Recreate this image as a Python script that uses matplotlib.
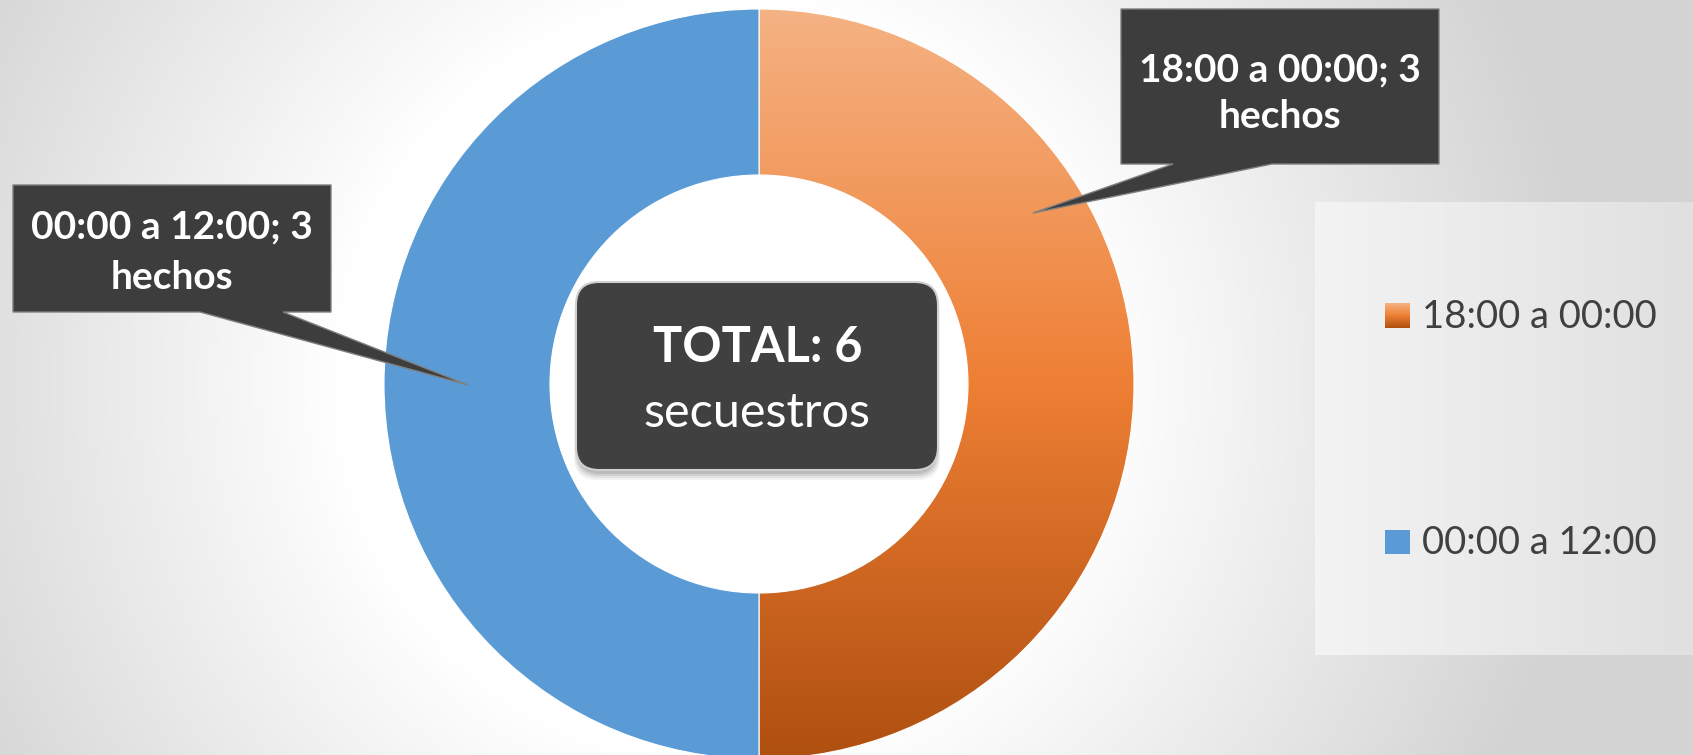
import numpy as np
import matplotlib
matplotlib.use('Agg')
import matplotlib.pyplot as plt
from matplotlib.patches import Polygon, FancyBboxPatch, Rectangle
from matplotlib.colors import LinearSegmentedColormap

# ---------------- data ----------------
categories = ['18:00 a 00:00', '00:00 a 12:00']
values = [3, 3]
unit_label = 'hechos'
total_title = 'TOTAL: 6'
total_sub = 'secuestros'
slice_colors = ['#ED7D31', '#5B9BD5']
orange_grad = ['#F5B283', '#EE7F34', '#AF4F10']

W, H = 1693, 755
FONT = 'Lato'

fig = plt.figure(figsize=(W / 100, H / 100), dpi=100)
ax = fig.add_axes([0, 0, 1, 1])
ax.axis('off')


def Y(py):
    return H - py


# ---------------- background (radial grey gradient) ----------------
yy, xx = np.mgrid[0:H, 0:W]
r = np.hypot(xx - 720, yy - 380)
g = 1 - np.clip((r - 380) * 0.09, 0, 44) / 255
ax.imshow(np.dstack([g, g, g]), extent=(0, W, 0, H), origin='upper',
          zorder=0, aspect='auto', interpolation='bilinear')

# legend panel
px0, px1, py0, py1 = 1315, W, 202, 655
lg = np.linspace(0.955, 0.88, 200).reshape(1, -1)
ax.imshow(np.dstack([lg, lg, lg]), extent=(px0, px1, Y(py1), Y(py0)),
          origin='upper', zorder=0.5, aspect='auto')

# ---------------- donut ----------------
cx, cy, R, RW = 759, 384, 375, 166
wedges, _ = ax.pie(values, colors=slice_colors, startangle=90, counterclock=False,
                   radius=R, center=(cx, Y(cy)),
                   wedgeprops=dict(width=RW, edgecolor='white', linewidth=0.8))
for w in wedges:
    w.set_zorder(2)

cmap = LinearSegmentedColormap.from_list('org', orange_grad)
grad = np.linspace(0, 1, 256).reshape(-1, 1)
im = ax.imshow(grad, cmap=cmap, extent=(cx - R, cx + R, Y(cy + R), Y(cy - R)),
               origin='upper', aspect='auto', zorder=1.5)
im.set_clip_path(wedges[0])
wedges[0].set_facecolor('none')

# ---------------- callouts ----------------
def callout(box, base, tip, lines, baselines):
    x0, y0, x1, y1 = box
    b0, b1 = base
    pts = [(x0, y0), (x1, y0), (x1, y1), (b1, y1), tip, (b0, y1), (x0, y1)]
    poly = Polygon([(p[0], Y(p[1])) for p in pts], closed=True,
                   facecolor='#3D3D3D', edgecolor='#7F7F7F', linewidth=1.0, zorder=5)
    ax.add_patch(poly)
    xc = (x0 + x1) / 2
    for txt, bl in zip(lines, baselines):
        ax.text(xc, Y(bl), txt, color='white', fontsize=28, fontweight='bold',
                family=FONT, ha='center', va='baseline', zorder=6)


callout((1121, 9, 1439, 164), (1173, 1272), (1033, 213),
        [f'{categories[0]}; {values[0]}', unit_label], [81, 128])
callout((13, 185, 331, 312), (200, 283), (468, 385),
        [f'{categories[1]}; {values[1]}', unit_label], [238, 289])

# ---------------- centre total box ----------------
bx0, by0, bx1, by1, rad = 576, 282, 938, 470, 23
for i, a in enumerate([0.05, 0.06, 0.08, 0.10]):
    off = 10 - i * 2
    sh = FancyBboxPatch((bx0 - 2 + i, Y(by1) - off), bx1 - bx0 + 4 - 2 * i, by1 - by0,
                        boxstyle=f'round,pad=0,rounding_size={rad}',
                        facecolor='black', edgecolor='none', alpha=a, zorder=6)
    ax.add_patch(sh)
box = FancyBboxPatch((bx0, Y(by1)), bx1 - bx0, by1 - by0,
                     boxstyle=f'round,pad=0,rounding_size={rad}',
                     facecolor='#404040', edgecolor='#D0D0D0', linewidth=1.5, zorder=7)
ax.add_patch(box)
ax.text(758, Y(362), total_title, color='white', fontsize=35, fontweight='bold',
        family=FONT, ha='center', va='baseline', zorder=8)
ax.text(757, Y(427), total_sub, color='white', fontsize=35,
        family=FONT, ha='center', va='baseline', zorder=8)

# ---------------- legend ----------------
leg_y = [(303, 328), (530, 554)]
for i, (cat, (t, b)) in enumerate(zip(categories, leg_y)):
    if i == 0:
        ax.imshow(grad, cmap=cmap, extent=(1385, 1410, Y(b), Y(t)),
                  origin='upper', aspect='auto', zorder=3)
    else:
        ax.add_patch(Rectangle((1385, Y(b)), 25, b - t, facecolor=slice_colors[i],
                               edgecolor='none', zorder=3))
    ax.text(1422, Y(b), cat, color='#404040', fontsize=27.5, family=FONT,
            ha='left', va='baseline', zorder=3)

ax.set_xlim(0, W)
ax.set_ylim(0, H)
fig.savefig('out.png', dpi=100)
